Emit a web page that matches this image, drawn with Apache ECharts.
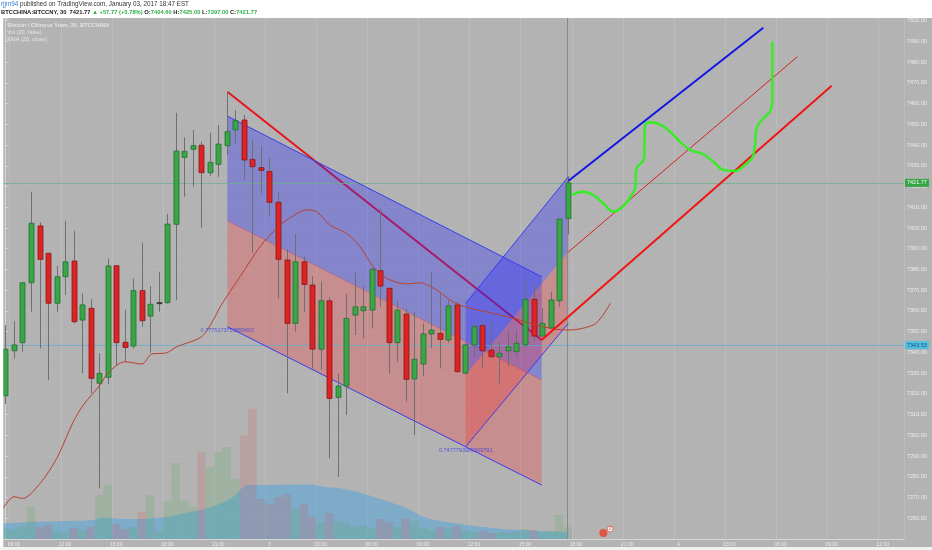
<!DOCTYPE html>
<html><head><meta charset="utf-8">
<script src="https://cdn.jsdelivr.net/npm/echarts/dist/echarts.min.js"></script>
<style>html,body{margin:0;padding:0;background:#fff}#c{width:932px;height:550px}</style>
</head><body><div id="c"></div>
<script>
// ---- 30-minute candles, BTCCNY, starting 2 Jan 08:30 ----
const slotCount = 106;
const startMinutes = 8 * 60 + 30;
const startDay = 2;

const O = [7319.1,7340.8,7344.7,7373.6,7401.0,7387.8,7363.7,7376.5,7384.1,7355.6,
           7361.3,7325.1,7328.0,7381.8,7344.9,7343.1,7369.8,7357.5,7363.5,7364.0,
           7401.8,7434.1,7438.0,7439.9,7426.7,7430.7,7439.7,7447.3,7452.1,7433.1,
           7429.1,7427.2,7412.4,7384.6,7354.0,7383.7,7372.5,7341.5,7364.9,7318.3,
           7323.8,7358.0,7360.1,7360.4,7379.4,7370.9,7344.7,7358.5,7327.2,7334.4,
           7348.9,7349.2,7346.0,7362.9,7330.0,7343.6,7352.9,7341.1,7337.9,7340.8,
           7340.3,7343.6,7365.6,7347.9,7351.9,7364.9,7404.6];
const C = [7341.5,7343.6,7373.6,7402.3,7384.9,7363.7,7376.5,7383.7,7354.8,7362.9,
           7327.5,7329.9,7381.7,7344.7,7342.4,7369.8,7355.3,7363.2,7364.0,7401.9,
           7437.1,7437.0,7439.7,7426.7,7431.7,7440.5,7446.5,7451.8,7432.8,7429.6,
           7427.8,7412.4,7384.9,7354.0,7383.7,7372.8,7341.6,7364.9,7317.8,7323.8,
           7356.4,7362.0,7362.0,7380.1,7372.0,7344.7,7360.4,7327.0,7336.7,7348.9,
           7350.8,7346.3,7362.4,7330.7,7343.6,7352.4,7340.8,7337.9,7339.6,7342.7,
           7344.4,7365.6,7347.9,7354.0,7365.3,7404.3,7421.77];
const L = [7315.1,7337.1,7340.3,7359.6,7342.0,7326.7,7359.6,7367.7,7354.0,7329.9,
           7320.3,7274.4,7324.7,7333.9,7335.5,7342.0,7352.4,7339.8,7359.6,7363.5,
           7365.3,7415.1,7419.9,7400.1,7425.2,7424.7,7435.2,7440.9,7423.2,7388.1,
           7416.7,7405.4,7366.1,7320.3,7350.0,7359.6,7332.3,7331.5,7288.9,7280.0,
           7309.8,7348.4,7346.8,7351.6,7362.0,7329.9,7335.5,7316.2,7300.1,7328.6,
           7342.0,7332.3,7344.7,7330.2,7329.5,7337.9,7332.3,7337.9,7325.1,7333.4,
           7337.9,7342.7,7345.1,7347.9,7351.9,7362.0,7397.0];
const H = [7353.2,7355.1,7374.0,7417.5,7402.7,7388.0,7381.8,7403.5,7398.7,7368.5,
           7365.7,7339.6,7385.4,7382.0,7360.4,7375.7,7392.9,7372.0,7378.9,7406.8,
           7455.6,7443.8,7447.3,7441.6,7446.0,7449.7,7465.7,7456.9,7454.5,7442.5,
           7439.6,7433.6,7417.5,7389.7,7397.1,7386.2,7376.8,7374.1,7366.6,7329.9,
           7368.2,7378.6,7371.7,7380.7,7409.5,7371.0,7364.9,7360.8,7359.6,7354.0,
           7378.9,7368.5,7365.3,7364.4,7344.5,7354.0,7354.8,7354.5,7345.1,7350.4,
           7350.8,7375.2,7373.0,7361.3,7369.3,7404.3,7425.0];
const V = [110,90,130,323,120,140,80,70,110,90,
           120,440,540,150,100,120,273,440,80,380,
           757,380,323,867,723,873,923,607,1040,1307,
           400,350,420,450,300,350,220,170,260,180,
           160,120,140,110,200,170,120,210,180,110,
           90,120,100,130,90,70,80,60,70,60,
           70,100,90,60,80,240,120];

// Volume moving average (area)
const volMaIdx = [-0.6,4.06,7.19,10.28,11.45,14.97,18.14,20.1,22.84,24.8,26.75,28.51,30.67,33.41,35.76,37.32,39.28,41.24,43.19,45.15,47.11,49.06,51.02,52.98,54.93,56.89,58.85,60.8,62.76,64.72,66.08];
const volMaVal = [157,173,180,190,213,200,213,240,290,340,423,540,540,547,547,523,507,473,423,367,307,223,180,157,130,113,97,90,80,73,73];

// EMA (20, close)
const emaIdx = [-0.6,1.0,2.02,4.06,6.02,7.97,9.14,11.1,12.07,14.04,16.0,17.17,18.93,20.1,23.04,24.4,25.2,25.98,27.54,29.89,32.03,33.6,35.37,36.54,38.1,40.07,41.63,43.19,44.76,47.11,48.67,50.63,52.58,54.54,57.28,60.03,61.59,63.15,64.72,66.28,69.02,70.01,71.04];
const emaVal = [7262.5,7270.4,7269.6,7276.8,7288.9,7306.6,7314.6,7324.3,7330.2,7335.5,7334.4,7339.2,7339.8,7342.7,7347.6,7355.6,7361.9,7366.9,7376.5,7391.0,7400.6,7405.4,7408.7,7407.9,7401.4,7397.4,7391.0,7381.3,7375.7,7373.0,7373.6,7370.1,7364.3,7361.3,7358.8,7356.0,7354.0,7352.4,7351.1,7350.8,7353.2,7357.2,7363.7];

// Drawings (x in candle slots, y in price)
const chanA_x = [26.05, 62.96];
const chanA_top = [7454.0, 7376.5];
const chanA_mid = [7403.5, 7326.7];
const chanA_bot = [7352.4, 7276.0];
const chanB_x = [54.04, 66.08];
const chanB_top = [7363.7, 7424.7];
const chanB_mid = [7329.1, 7388.6];
const chanB_bot = [7294.5, 7354.0];
const trendDownX = [26.05, 62.96], trendDownY = [7465.7, 7346.0];
const trendUpX = [62.96, 97.01], trendUpY = [7346.0, 7468.6];
const trendThinX = [66.08, 92.97], trendThinY = [7388.4, 7482.6];
const trendBlueX = [66.08, 88.98], trendBlueY = [7422.7, 7496.6];
const fibLabels = ['0.7775173753859602', '0.7477793999609791'];

// Hand-drawn projection
const gcIdx = [66.48,67.66,69.02,70.19,71.37,72.35,73.13,73.91,74.11,74.97,75.09,75.68,76.85,78.03,79.0,80.37,81.93,83.11,84.28,85.66,86.83,87.74,88.0,88.2,88.98,89.85,90.04,90.04];
const gcVal = [7415.9,7417.5,7415.9,7411.9,7407.9,7409.8,7413.5,7419.2,7428.8,7433.3,7449.7,7451.0,7450.0,7446.5,7442.5,7437.7,7435.6,7432.0,7428.0,7427.5,7430.4,7434.4,7440.0,7448.1,7452.9,7456.9,7464.2,7489.9];

const lastPrice = 7421.77, emaPrice = 7343.53;
const yTickMin = 7250, yTickMax = 7501.3, yTickStep = 10;

// ---- build ----
const pad = n => (n < 10 ? '0' : '') + n;
const categories = [];
for (let k = 0; k < slotCount; k++) {
  const m = startMinutes + k * 30;
  const d = startDay + Math.floor(m / 1440), mm = m % 1440;
  categories.push(d + ' ' + pad(Math.floor(mm / 60)) + ':' + pad(mm % 60));
}
const zip = (a, b) => a.map((v, i) => [v, b[i]]);
const showTick = (i) => (i - 1) % 6 === 0;
const candleData = O.map((o, i) => [i, o, C[i], L[i], H[i]]);
const volData = V.map((v, i) => ({value: v, itemStyle: {color: C[i] >= O[i] ? 'rgba(80,170,85,0.20)' : 'rgba(215,90,90,0.20)'}}));

function polySeries(xs, upper, lower, fill, z) {
  return {
    type: 'custom', xAxisIndex: 1, yAxisIndex: 0, z: z, silent: true, data: [[xs[0], upper[0]]],
    renderItem: (p, api) => ({
      type: 'polygon',
      shape: {points: [api.coord([xs[0], upper[0]]), api.coord([xs[1], upper[1]]), api.coord([xs[1], lower[1]]), api.coord([xs[0], lower[0]])]},
      style: {fill: fill}
    })
  };
}
function lineSeries(xs, ys, color, width, z) {
  return {type: 'line', xAxisIndex: 1, yAxisIndex: 0, data: zip(xs, ys), symbol: 'none', silent: true, z: z,
          lineStyle: {color: color, width: width}, animation: false};
}

const chart = echarts.init(document.getElementById('c'), null, {renderer: 'canvas'});
const option = {
  animation: false,
  backgroundColor: '#b3b3b3',
  grid: {left: 1.2, right: 28, top: 18, bottom: 11, containLabel: false},
  xAxis: [
    {type: 'category', data: categories, boundaryGap: true,
     axisLine: {show: true, lineStyle: {color: '#d6d6d6'}}, axisTick: {show: false},
     axisLabel: {interval: showTick, color: '#ececec', fontSize: 5, margin: 3, fontFamily: 'Liberation Sans',
                 formatter: v => { const t = v.split(' '); return t[1] === '00:00' ? t[0] : t[1]; }},
     splitLine: {show: true, interval: showTick, lineStyle: {color: 'rgba(255,255,255,0.13)'}}},
    {type: 'value', min: -0.5, max: slotCount - 0.5, show: false}
  ],
  yAxis: [
    {type: 'value', position: 'right', min: yTickMin, max: yTickMax, interval: yTickStep,
     axisLine: {show: true, lineStyle: {color: '#d6d6d6'}},
     axisTick: {show: true, length: 2, lineStyle: {color: '#e0e0e0'}},
     axisLabel: {color: '#ececec', fontSize: 5.5, margin: 3, fontFamily: 'Liberation Sans',
                 formatter: v => (Math.abs(v % 10) < 1e-6 && v > yTickMin && v < 7501) ? v.toFixed(2) : ''},
     splitLine: {show: true, lineStyle: {color: 'rgba(255,255,255,0.05)'}}},
    {type: 'value', min: 0, max: 5220, show: false}
  ],
  series: [
    {type: 'line', name: 'VolMA', xAxisIndex: 1, yAxisIndex: 1, data: zip(volMaIdx, volMaVal), smooth: 0.4,
     symbol: 'none', lineStyle: {width: 0}, areaStyle: {color: 'rgba(55,160,228,0.62)'}, z: 1, silent: true},
    {type: 'bar', name: 'Vol', xAxisIndex: 0, yAxisIndex: 1, data: volData, barWidth: '98%', z: 2, silent: true},
    lineSeries(trendDownX, trendDownY, '#e8141b', 2, 3),
    polySeries(chanA_x, chanA_top, chanA_mid, 'rgba(40,40,255,0.33)', 4),
    polySeries(chanA_x, chanA_mid, chanA_bot, 'rgba(255,40,40,0.26)', 4),
    polySeries(chanB_x, chanB_top, chanB_mid, 'rgba(40,40,255,0.33)', 4),
    polySeries(chanB_x, chanB_mid, chanB_bot, 'rgba(255,40,40,0.26)', 4),
    lineSeries(chanA_x, chanA_top, '#3b3bf0', 1, 5),
    lineSeries(chanA_x, chanA_mid, 'rgba(200,60,90,0.5)', 0.8, 5),
    lineSeries(chanA_x, chanA_bot, '#3b3bf0', 1, 5),
    lineSeries(chanB_x, chanB_top, '#3b3bf0', 1, 5),
    lineSeries(chanB_x, chanB_bot, '#3b3bf0', 1, 5),
    {type: 'custom', name: 'Candles', xAxisIndex: 0, yAxisIndex: 0, data: candleData, z: 6, silent: true,
     encode: {x: 0, y: [1, 2, 3, 4]},
     renderItem: (p, api) => {
       const i = api.value(0), o = api.value(1), c = api.value(2), l = api.value(3), h = api.value(4);
       const po = api.coord([i, o]), pc = api.coord([i, c]), pl = api.coord([i, l]), ph = api.coord([i, h]);
       const x = Math.round(po[0]) + 0.5, bw = 5;
       const up = c >= o, top = Math.min(po[1], pc[1]), bh = Math.max(1, Math.abs(po[1] - pc[1]));
       const doji = Math.abs(c - o) < 1;
       return {type: 'group', children: [
         {type: 'line', shape: {x1: x, y1: ph[1], x2: x, y2: pl[1]}, style: {stroke: '#6f6f6f', lineWidth: 1}},
         {type: 'rect', shape: {x: x - bw / 2, y: top, width: bw, height: bh},
          style: {fill: doji ? '#333' : (up ? '#3aa648' : '#de2323'), stroke: doji ? '#333' : (up ? '#23702e' : '#861616'), lineWidth: 0.8}}
       ]};
     }},
    {type: 'line', name: 'EMA', xAxisIndex: 1, yAxisIndex: 0, data: zip(emaIdx, emaVal), smooth: 0.3, symbol: 'none',
     lineStyle: {color: '#b8412d', width: 1}, z: 7, silent: true,
     markLine: {symbol: 'none', silent: true, animation: false, data: [
       {yAxis: lastPrice, lineStyle: {color: 'rgba(110,175,140,0.75)', width: 1, type: 'solid'},
        label: {show: true, position: 'end', formatter: '7421.77', color: '#fff', fontSize: 5.5, backgroundColor: '#35a546', padding: [1, 2, 1, 2], distance: 1, fontFamily: 'Liberation Sans'}},
       {yAxis: lastPrice - 4, lineStyle: {opacity: 0},
        label: {show: true, position: 'end', formatter: '12:52', color: '#fff', fontSize: 5.5, backgroundColor: '#35a546', padding: [1, 2, 1, 2], distance: 7, fontFamily: 'Liberation Sans'}},
       {yAxis: emaPrice, lineStyle: {color: 'rgba(90,175,215,0.7)', width: 1, type: 'solid'},
        label: {show: true, position: 'end', formatter: '7343.53', color: '#1b4a7a', fontSize: 5.5, backgroundColor: '#4fc0e0', padding: [1, 2, 1, 2], distance: 1, fontFamily: 'Liberation Sans'}},
       {xAxis: 66, lineStyle: {color: '#8a8a8a', width: 1, type: 'solid'}, label: {show: false}}
     ]}},
    lineSeries(trendUpX, trendUpY, '#f01414', 2, 8),
    lineSeries(trendThinX, trendThinY, '#d82020', 1, 8),
    lineSeries(trendBlueX, trendBlueY, '#1414e6', 2, 8),
    {type: 'line', name: 'Projection', xAxisIndex: 1, yAxisIndex: 0, data: zip(gcIdx, gcVal), smooth: 0.35, symbol: 'none',
     lineStyle: {color: '#33ee22', width: 2.4}, z: 9, silent: true},
    {type: 'scatter', xAxisIndex: 1, yAxisIndex: 0, symbolSize: 0, z: 9, silent: true,
     data: [[chanA_x[0], chanA_bot[0]], [chanB_x[0], chanB_bot[0]]].map((p, k) => ({value: p,
       label: {show: true, position: 'bottom', distance: 1, formatter: fibLabels[k], color: '#3a3ae8', fontSize: 5.5, fontFamily: 'Liberation Sans'}}))},
    {type: 'scatter', xAxisIndex: 1, yAxisIndex: 1, z: 9, silent: true,
     data: [{value: [70.2, 60], symbol: 'circle', symbolSize: 8, itemStyle: {color: '#e8402a'}},
            {value: [71.0, 100], symbol: 'circle', symbolSize: 6, itemStyle: {color: '#ffffff', borderColor: '#e8402a', borderWidth: 0.8},
             label: {show: true, position: 'inside', formatter: '2', fontSize: 4.5, color: '#d03020'}}]}
  ],
  graphic: [
    {type: 'rect', shape: {x: 0, y: 0, width: 932, height: 18}, style: {fill: '#ffffff'}, z: 100},
    {type: 'rect', shape: {x: 0, y: 0, width: 3.3, height: 550}, style: {fill: '#ffffff'}, z: 100},
    {type: 'rect', shape: {x: 0, y: 547, width: 932, height: 3}, style: {fill: '#f2f2f2'}, z: 100},
    {type: 'text', x: 1, y: 1.3, z: 101, style: {text: '{a|rjjm94} published on TradingView.com, January 03, 2017 18:47 EST',
      fontSize: 6.3, fontFamily: 'Liberation Sans', fill: '#333', rich: {a: {fill: '#2f7dcf', fontSize: 6.3, fontFamily: 'Liberation Sans'}}}},
    {type: 'text', x: 1, y: 9.3, z: 101, style: {
      text: '{b|BTCCHINA:BTCCNY, 30}  {b|7421.77} {g|▲} {g|+57.77 (+0.78%)} {b|O:}{g|7404.60} {b|H:}{g|7425.00} {b|L:}{g|7397.00} {b|C:}{g|7421.77}',
      fontSize: 5.8, fontFamily: 'Liberation Sans', fill: '#222',
      rich: {b: {fontWeight: 'bold', fontSize: 5.8, fill: '#222', fontFamily: 'Liberation Sans'},
             g: {fontWeight: 'bold', fontSize: 5.8, fill: '#2fae4a', fontFamily: 'Liberation Sans'}}}},
    {type: 'text', x: 7.3, y: 22, z: 101, style: {text: 'Bitcoin / Chinese Yuan, 30, BTCCHINA', fontSize: 5.6, fontWeight: 'bold', fill: '#e4e4e4', fontFamily: 'Liberation Sans'}},
    {type: 'text', x: 7.3, y: 29, z: 101, style: {text: 'Vol (20, false)', fontSize: 5.6, fill: '#e4e4e4', fontFamily: 'Liberation Sans'}},
    {type: 'text', x: 7.3, y: 36, z: 101, style: {text: 'EMA (20, close)', fontSize: 5.6, fill: '#e4e4e4', fontFamily: 'Liberation Sans'}}
  ]
};
chart.setOption(option);
</script></body></html>
